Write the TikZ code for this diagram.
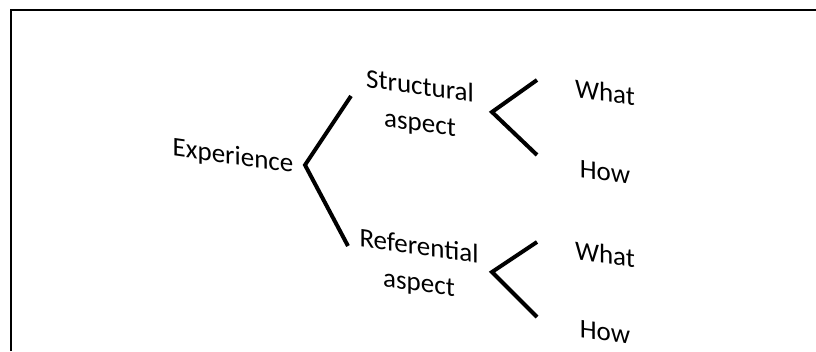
\documentclass[tikz,border=0pt]{standalone}
\usepackage{fontspec}
\setmainfont{Carlito}
\begin{document}
\begin{tikzpicture}[x=1pt,y=-1pt,
  label/.style={inner sep=0pt,anchor=center,yslant=-0.14,align=center,
    font=\fontsize{27}{37}\selectfont},
  branch/.style={line width=4pt,line join=miter}]
\useasboundingbox (0,0) rectangle (816,351);
% frame (left and top edges)
\draw[line width=2pt] (11,351) -- (11,10) -- (816,10);

% labels
\node[label] (exp) at (233,157) {Experience};
\node[label] (str) at (420,106) {Structural\\aspect};
\node[label] (sw) at (605,92) {What};
\node[label] (sh) at (605,172) {How};
\node[label] (ref) at (419,266) {Referential\\aspect};
\node[label] (rw) at (605,254) {What};
\node[label] (rh) at (605,332) {How};

% branch points
\coordinate (e0) at (305,165);
\coordinate (e1) at (351,96);
\coordinate (e2) at (348,246);
\coordinate (s0) at (492,112);
\coordinate (s1) at (537,80);
\coordinate (s2) at (537,155);
\coordinate (r0) at (492,272);
\coordinate (r1) at (537,242);
\coordinate (r2) at (537,317);

\draw[branch] (e1) -- (e0) -- (e2);
\draw[branch] (s1) -- (s0) -- (s2);
\draw[branch] (r1) -- (r0) -- (r2);
\end{tikzpicture}
\end{document}
